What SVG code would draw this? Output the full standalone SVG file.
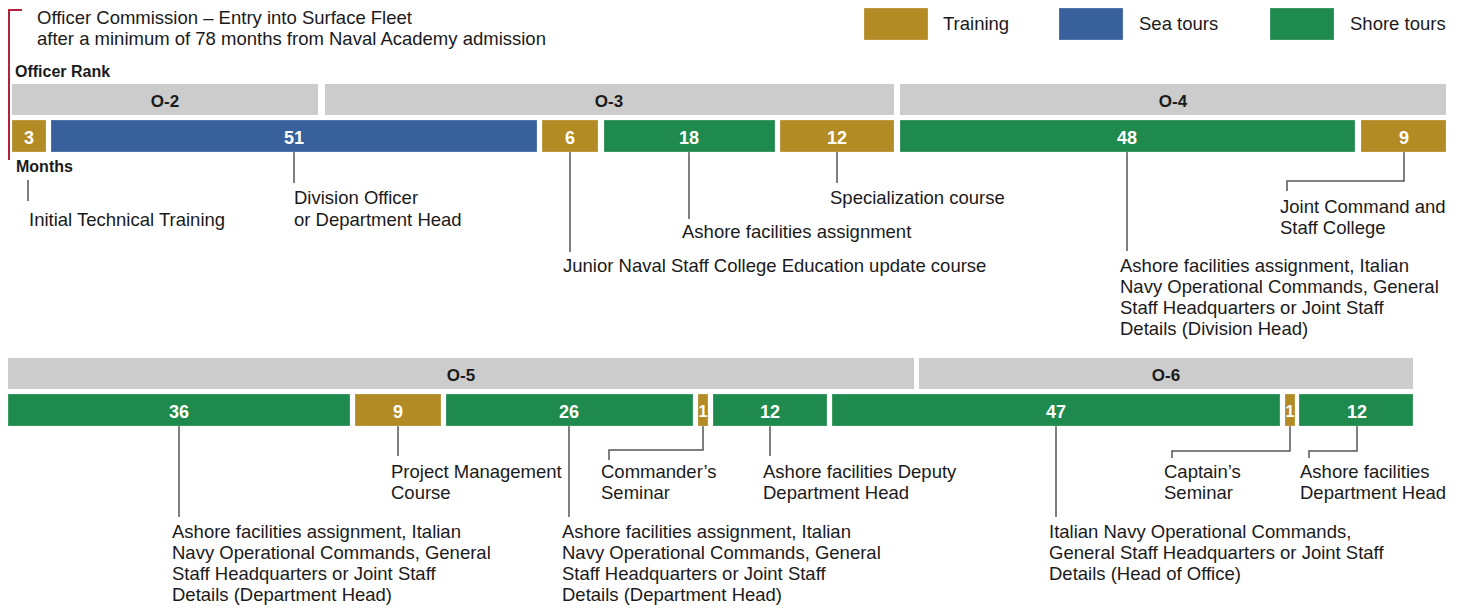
<svg xmlns="http://www.w3.org/2000/svg" width="1465" height="610" viewBox="0 0 1465 610">
<style>
text{font-family:"Liberation Sans",Arial,sans-serif;}
.t{font-size:18.5px;fill:#1a1a1a;}
.h{font-size:16px;font-weight:bold;fill:#1a1a1a;}
.rk{fill:#cccccc;}
.rl{font-size:17px;font-weight:bold;fill:#1a1a1a;text-anchor:middle;}
.tr{fill:#b38b24;}
.sea{fill:#38609b;}
.sh{fill:#1f8a4d;}
.b{stroke:#ffffff;stroke-opacity:0.25;stroke-width:1;}
.n{font-size:18px;font-weight:bold;fill:#ffffff;text-anchor:middle;}
.n1{font-size:16px;}
.c{fill:none;stroke:#555555;stroke-width:1.5;}
</style>
<rect width="1465" height="610" fill="#ffffff"/>
<g id="commission">
<path d="M22 10 H9 V160" fill="none" stroke="#b5203a" stroke-width="2"/>
<text class="t" x="37" y="24">Officer Commission – Entry into Surface Fleet</text>
<text class="t" x="37" y="45">after a minimum of 78 months from Naval Academy admission</text>
</g>
<g id="legend">
<rect class="tr b" x="864" y="8" width="64" height="32"/>
<text class="t" x="943" y="30">Training</text>
<rect class="sea b" x="1059" y="8" width="64" height="32"/>
<text class="t" x="1139" y="30">Sea tours</text>
<rect class="sh b" x="1270" y="8" width="64" height="32"/>
<text class="t" x="1350" y="30">Shore tours</text>
</g>
<text class="h" x="15" y="77">Officer Rank</text>
<text class="h" x="16" y="172">Months</text>
<g id="ranks">
<g id="rank-o2"><rect class="rk" x="12" y="84" width="306" height="31"/><text class="rl" x="165" y="107">O-2</text></g>
<g id="rank-o3"><rect class="rk" x="325" y="84" width="569" height="31"/><text class="rl" x="609" y="107">O-3</text></g>
<g id="rank-o4"><rect class="rk" x="900" y="84" width="546" height="31"/><text class="rl" x="1173" y="107">O-4</text></g>
<g id="rank-o5"><rect class="rk" x="8" y="358" width="906" height="31"/><text class="rl" x="461" y="381">O-5</text></g>
<g id="rank-o6"><rect class="rk" x="919" y="358" width="494" height="31"/><text class="rl" x="1166" y="381">O-6</text></g>
</g>
<g id="connectors">
<path class="c" d="M28 180 V201"/>
<path class="c" d="M294 152 V183"/>
<path class="c" d="M570 152 V252"/>
<path class="c" d="M689 152 V219"/>
<path class="c" d="M837 152 V183"/>
<path class="c" d="M1127 152 V251"/>
<path class="c" d="M1404 152 V181 H1287 V191"/>
<path class="c" d="M179 426 V517"/>
<path class="c" d="M398 426 V456"/>
<path class="c" d="M569 426 V517"/>
<path class="c" d="M703 426 V450 H609 V460"/>
<path class="c" d="M770 426 V456"/>
<path class="c" d="M1056 426 V517"/>
<path class="c" d="M1290 426 V451 H1172 V458"/>
<path class="c" d="M1357 426 V451 H1309 V458"/>
</g>
<g id="m-3"><rect class="tr b" x="12" y="120" width="34" height="32"/><text class="n" x="29" y="144">3</text>
<text class="t" x="29" y="226">Initial Technical Training</text></g>
<g id="m-51"><rect class="sea b" x="51" y="120" width="486" height="32"/><text class="n" x="294" y="144">51</text>
<text class="t" x="294" y="204">Division Officer</text><text class="t" x="294" y="226">or Department Head</text></g>
<g id="m-6"><rect class="tr b" x="542" y="120" width="56" height="32"/><text class="n" x="570" y="144">6</text>
<text class="t" x="563" y="272">Junior Naval Staff College Education update course</text></g>
<g id="m-18"><rect class="sh b" x="604" y="120" width="171" height="32"/><text class="n" x="689" y="144">18</text>
<text class="t" x="682" y="238">Ashore facilities assignment</text></g>
<g id="m-12a"><rect class="tr b" x="780" y="120" width="114" height="32"/><text class="n" x="837" y="144">12</text>
<text class="t" x="830" y="204">Specialization course</text></g>
<g id="m-48"><rect class="sh b" x="900" y="120" width="455" height="32"/><text class="n" x="1127" y="144">48</text>
<text class="t" x="1120" y="272">Ashore facilities assignment, Italian</text>
<text class="t" x="1120" y="293">Navy Operational Commands, General</text>
<text class="t" x="1120" y="314">Staff Headquarters or Joint Staff</text>
<text class="t" x="1120" y="335">Details (Division Head)</text></g>
<g id="m-9a"><rect class="tr b" x="1361" y="120" width="85" height="32"/><text class="n" x="1404" y="144">9</text>
<text class="t" x="1280" y="213">Joint Command and</text><text class="t" x="1280" y="234">Staff College</text></g>
<g id="m-36"><rect class="sh b" x="8" y="394" width="342" height="32"/><text class="n" x="179" y="418">36</text>
<text class="t" x="172" y="538">Ashore facilities assignment, Italian</text>
<text class="t" x="172" y="559">Navy Operational Commands, General</text>
<text class="t" x="172" y="580">Staff Headquarters or Joint Staff</text>
<text class="t" x="172" y="601">Details (Department Head)</text></g>
<g id="m-9b"><rect class="tr b" x="355" y="394" width="86" height="32"/><text class="n" x="398" y="418">9</text>
<text class="t" x="391" y="478">Project Management</text><text class="t" x="391" y="499">Course</text></g>
<g id="m-26"><rect class="sh b" x="446" y="394" width="247" height="32"/><text class="n" x="569" y="418">26</text>
<text class="t" x="562" y="538">Ashore facilities assignment, Italian</text>
<text class="t" x="562" y="559">Navy Operational Commands, General</text>
<text class="t" x="562" y="580">Staff Headquarters or Joint Staff</text>
<text class="t" x="562" y="601">Details (Department Head)</text></g>
<g id="m-1a"><rect class="tr b" x="698" y="394" width="10" height="32"/><text class="n n1" x="703" y="417">1</text>
<text class="t" x="601" y="478">Commander’s</text><text class="t" x="601" y="499">Seminar</text></g>
<g id="m-12b"><rect class="sh b" x="713" y="394" width="114" height="32"/><text class="n" x="770" y="418">12</text>
<text class="t" x="763" y="478">Ashore facilities Deputy</text><text class="t" x="763" y="499">Department Head</text></g>
<g id="m-47"><rect class="sh b" x="832" y="394" width="448" height="32"/><text class="n" x="1056" y="418">47</text>
<text class="t" x="1049" y="538">Italian Navy Operational Commands,</text>
<text class="t" x="1049" y="559">General Staff Headquarters or Joint Staff</text>
<text class="t" x="1049" y="580">Details (Head of Office)</text></g>
<g id="m-1b"><rect class="tr b" x="1285" y="394" width="10" height="32"/><text class="n n1" x="1290" y="417">1</text>
<text class="t" x="1164" y="478">Captain’s</text><text class="t" x="1164" y="499">Seminar</text></g>
<g id="m-12c"><rect class="sh b" x="1299" y="394" width="114" height="32"/><text class="n" x="1357" y="418">12</text>
<text class="t" x="1300" y="478">Ashore facilities</text><text class="t" x="1300" y="499">Department Head</text></g>
</svg>
